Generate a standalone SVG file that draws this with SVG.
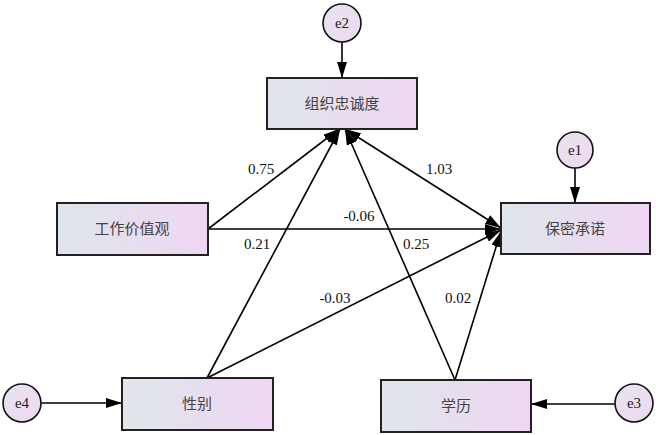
<svg xmlns="http://www.w3.org/2000/svg" width="656" height="435" viewBox="0 0 656 435">
<defs>
<linearGradient id="g" x1="0" y1="0" x2="1" y2="0">
<stop offset="0" stop-color="#dfe6ea"/>
<stop offset="1" stop-color="#efd6f3"/>
</linearGradient>
<linearGradient id="gc" x1="0" y1="0" x2="1" y2="1">
<stop offset="0" stop-color="#e6e4ee"/>
<stop offset="1" stop-color="#efd8f3"/>
</linearGradient>
<marker id="a" viewBox="0 0 16 10" refX="16" refY="5" markerWidth="16" markerHeight="10" markerUnits="userSpaceOnUse" orient="auto-start-reverse">
<path d="M0,0 L16,5 L0,10 Z" fill="#000"/>
</marker>
<style>
.box{fill:url(#g);stroke:#222;stroke-width:2}
.err{fill:url(#gc);stroke:#111;stroke-width:1.6}
.lbl{font-family:"Noto Sans CJK SC","Noto Sans CJK JP",sans-serif;font-size:15px;fill:#444;text-anchor:middle}
.et{font-family:"Liberation Serif","Times New Roman","DejaVu Serif",serif;font-size:15px;fill:#222;text-anchor:middle}
.num{font-family:"Liberation Serif","Times New Roman","DejaVu Serif",serif;font-size:15px;fill:#111;text-anchor:middle}
.c{stroke:#000;stroke-width:1.6;fill:none;marker-end:url(#a)}
.d{stroke:#000;stroke-width:1.6;fill:none;marker-end:url(#a);marker-start:url(#a)}
</style>
</defs>
<rect width="656" height="435" fill="#fff"/>
<g id="connectors">
<line class="c" x1="342" y1="42" x2="342" y2="78"/>
<line class="c" x1="575" y1="168" x2="575" y2="203"/>
<line class="c" x1="41" y1="403" x2="122" y2="403"/>
<line class="c" x1="615" y1="404" x2="531" y2="404"/>
<line class="c" x1="208" y1="229" x2="339" y2="129"/>
<line class="c" x1="208" y1="229" x2="501" y2="229"/>
<line class="c" x1="207" y1="378" x2="340" y2="129"/>
<line class="c" x1="207" y1="378" x2="501" y2="230"/>
<line class="c" x1="455" y1="380" x2="345" y2="129"/>
<line class="c" x1="455" y1="380" x2="501" y2="231"/>
<line class="d" x1="345" y1="129" x2="501" y2="228"/>
</g>
<g id="labels">
<text class="num" x="261" y="174">0.75</text>
<text class="num" x="439" y="174">1.03</text>
<text class="num" x="359" y="221">-0.06</text>
<text class="num" x="257" y="249">0.21</text>
<text class="num" x="416" y="249">0.25</text>
<text class="num" x="335" y="303">-0.03</text>
<text class="num" x="458" y="303">0.02</text>
</g>
<g id="n-zzzcd"><rect class="box" x="267" y="78" width="150" height="51"/><text class="lbl" x="342" y="109">组织忠诚度</text></g>
<g id="n-bmcn"><rect class="box" x="501" y="203" width="149" height="51"/><text class="lbl" x="575" y="234">保密承诺</text></g>
<g id="n-gzjzg"><rect class="box" x="57" y="203" width="151" height="52"/><text class="lbl" x="132" y="234">工作价值观</text></g>
<g id="n-xb"><rect class="box" x="122" y="378" width="151" height="52"/><text class="lbl" x="197" y="409">性别</text></g>
<g id="n-xl"><rect class="box" x="381" y="380" width="150" height="52"/><text class="lbl" x="456" y="411">学历</text></g>
<g id="n-e2"><circle class="err" cx="342" cy="23" r="19"/><text class="et" x="342" y="28">e2</text></g>
<g id="n-e1"><circle class="err" cx="575" cy="150" r="18"/><text class="et" x="575" y="155">e1</text></g>
<g id="n-e4"><circle class="err" cx="22" cy="403" r="19"/><text class="et" x="22" y="408">e4</text></g>
<g id="n-e3"><circle class="err" cx="634" cy="403" r="19"/><text class="et" x="634" y="408">e3</text></g>
</svg>
